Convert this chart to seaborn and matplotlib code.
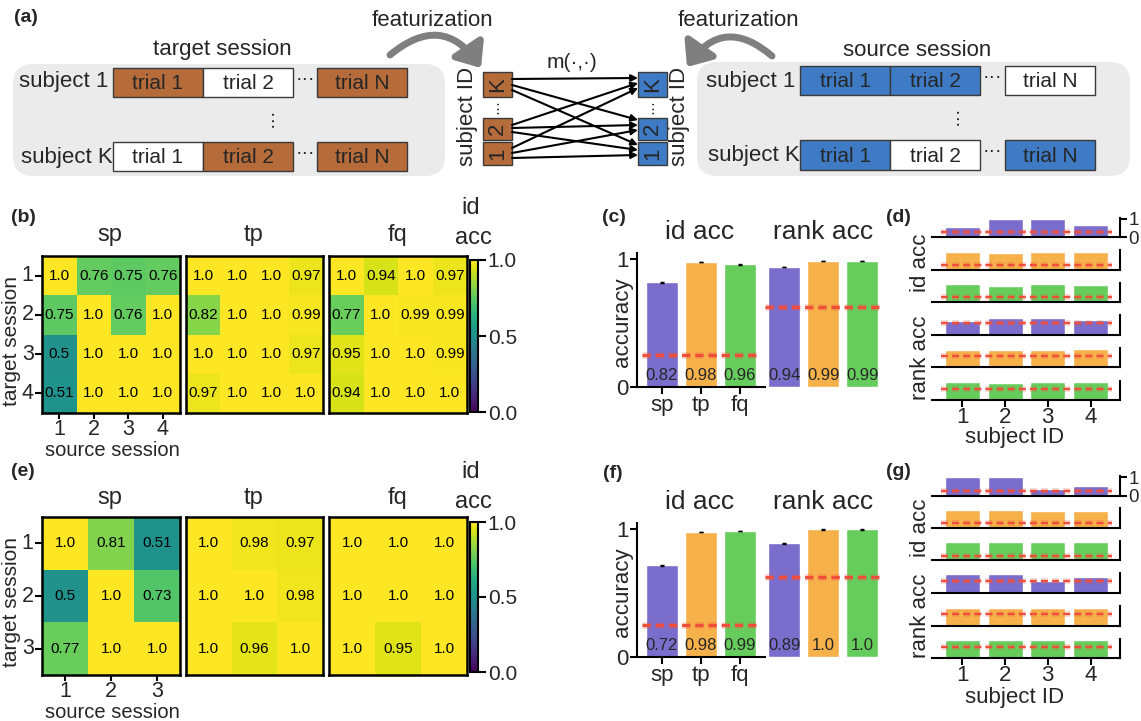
import numpy as np
import pandas as pd
import matplotlib
matplotlib.use("Agg")
import matplotlib.pyplot as plt
import seaborn as sns
from matplotlib.patches import Rectangle, FancyBboxPatch, FancyArrowPatch

# ---------------- data ----------------
features = ["sp", "tp", "fq"]
sessions_b = ["1", "2", "3", "4"]
sessions_e = ["1", "2", "3"]
subjects = ["1", "2", "3", "4"]

b_sp = [[1.0, 0.76, 0.75, 0.76], [0.75, 1.0, 0.76, 1.0], [0.5, 1.0, 1.0, 1.0], [0.51, 1.0, 1.0, 1.0]]
b_tp = [[1.0, 1.0, 1.0, 0.97], [0.82, 1.0, 1.0, 0.99], [1.0, 1.0, 1.0, 0.97], [0.97, 1.0, 1.0, 1.0]]
b_fq = [[1.0, 0.94, 1.0, 0.97], [0.77, 1.0, 0.99, 0.99], [0.95, 1.0, 1.0, 0.99], [0.94, 1.0, 1.0, 1.0]]

e_sp = [[1.0, 0.81, 0.51], [0.5, 1.0, 0.73], [0.77, 1.0, 1.0]]
e_tp = [[1.0, 0.98, 0.97], [1.0, 1.0, 0.98], [1.0, 0.96, 1.0]]
e_fq = [[1.0, 1.0, 1.0], [1.0, 1.0, 1.0], [1.0, 0.95, 1.0]]

c_id_acc = [0.82, 0.98, 0.96]
c_id_err = [0.004, 0.002, 0.002]
c_rank_acc = [0.94, 0.99, 0.99]
c_rank_err = [0.002, 0.001, 0.001]
f_id_acc = [0.72, 0.98, 0.99]
f_id_err = [0.004, 0.002, 0.001]
f_rank_acc = [0.89, 1.0, 1.0]
f_rank_err = [0.003, 0.001, 0.001]

chance_id = 0.25
chance_rank = 0.625

d_id_sp = [0.54, 0.96, 0.96, 0.63]
d_id_tp = [0.94, 0.89, 0.94, 0.94]
d_id_fq = [0.96, 0.85, 0.96, 0.91]
d_rank_sp = [0.76, 0.92, 0.92, 0.81]
d_rank_tp = [0.91, 0.91, 0.91, 0.96]
d_rank_fq = [0.98, 0.92, 0.98, 0.98]

g_id_sp = [1.0, 1.0, 0.35, 0.53]
g_id_tp = [0.98, 0.98, 0.92, 0.92]
g_id_fq = [0.98, 0.98, 0.98, 0.98]
g_rank_sp = [1.0, 1.0, 0.64, 0.87]
g_rank_tp = [0.99, 0.99, 0.99, 0.99]
g_rank_fq = [1.0, 1.0, 1.0, 0.98]

# ---------------- style ----------------
sns.set_theme(style="white")
plt.rcParams['font.family'] = ['Liberation Sans', 'DejaVu Sans']
plt.rcParams['lines.scale_dashes'] = False

PURPLE = "#7B6DCC"
ORANGE = "#F6B14B"
GREEN = "#66CD5D"
RED = "#EF4F3A"
BROWN = "#B66B3B"
BLUE = "#3E7BC4"
palette = [PURPLE, ORANGE, GREEN]

W, H = 1141, 721
fig = plt.figure(figsize=(W / 100, H / 100), dpi=100)


def px_axes(x0, y0, x1, y1):
    return fig.add_axes([x0 / W, 1 - y1 / H, (x1 - x0) / W, (y1 - y0) / H])


def fmt_val(v):
    s = f"{v:.2f}".rstrip("0")
    return s + "0" if s.endswith(".") else s


# ---------------- heatmaps ----------------
def heat(ax, data, sessions, cax=None, ticks=False):
    df = pd.DataFrame(data, index=sessions, columns=sessions)
    labels = np.array([[fmt_val(v) for v in row] for row in data])
    sns.heatmap(df, ax=ax, vmin=0, vmax=1, cmap="viridis", annot=labels, fmt="",
                annot_kws={"fontsize": 11, "color": "black"},
                cbar=cax is not None, cbar_ax=cax)
    for s in ax.spines.values():
        s.set_visible(True)
        s.set_color("black")
        s.set_linewidth(1.8)
    if ticks:
        ax.set_xticklabels(sessions, rotation=0, fontsize=15.5)
        ax.set_yticklabels(sessions, rotation=0, fontsize=15.5)
        ax.tick_params(axis="y", length=5, width=1.5, color="black", pad=1, left=True)
        ax.tick_params(axis="x", length=4, width=1.5, color="black", pad=0, bottom=True)
    else:
        ax.set_xticks([])
        ax.set_yticks([])
    ax.set_xlabel("")
    ax.set_ylabel("")
    if cax is not None:
        cb = ax.collections[0].colorbar
        cb.outline.set_edgecolor("black")
        cb.outline.set_linewidth(1.5)
        cb.set_ticks([0, 0.5, 1.0])
        cb.set_ticklabels(["0.0", "0.5", "1.0"])
        cax.tick_params(labelsize=15, length=6, width=1.5, color="black", right=True, pad=1)


def heat_panel(top, bottom, sp, tp, fq, sessions, cb_top, cb_bottom):
    a1 = px_axes(42, top, 180, bottom)
    a2 = px_axes(186, top, 323, bottom)
    a3 = px_axes(329, top, 467, bottom)
    cax = px_axes(470, cb_top, 478, cb_bottom)
    heat(a1, sp, sessions, ticks=True)
    heat(a2, tp, sessions)
    heat(a3, fq, sessions, cax=cax)


heat_panel(256, 413, b_sp, b_tp, b_fq, sessions_b, 260, 412)
heat_panel(517, 675, e_sp, e_tp, e_fq, sessions_e, 522, 672)


# ---------------- overall bar panels ----------------
def red_line(ax, y, x0, x1, lw, dash):
    ax.hlines(y, x0, x1, colors=RED, linewidth=lw + 2.5, alpha=0.25,
              linestyles=[(0, dash)], zorder=4)
    ax.hlines(y, x0, x1, colors=RED, linewidth=lw, linestyles=[(0, dash)], zorder=5)


def bar_panel(top, bottom, id_vals, id_err, rank_vals, rank_err):
    ax_id = px_axes(637, top, 765, bottom)
    ax_rk = px_axes(765, top, 893, bottom)
    for ax, vals, err, chance, xl in [(ax_id, id_vals, id_err, chance_id, (-0.64, 2.64)),
                                      (ax_rk, rank_vals, rank_err, chance_rank, (-0.49, 2.79))]:
        df = pd.DataFrame({"feature": features, "acc": vals})
        sns.barplot(data=df, x="feature", y="acc", hue="feature", palette=palette,
                    saturation=1, width=0.82, legend=False, ax=ax)
        ax.errorbar(range(3), vals, yerr=err, fmt="none", ecolor="black",
                    elinewidth=1, capsize=1.5, zorder=6)
        red_line(ax, chance, -0.5, 2.5, 2.3, (6, 3.5))
        for i, v in enumerate(vals):
            ax.text(i, 0.09, fmt_val(v), ha="center", va="center", fontsize=12, zorder=7)
        ax.set_xlim(*xl)
        ax.set_ylim(0, 1.05)
        ax.set_xlabel("")
        ax.set_ylabel("")
        ax.set_facecolor("none")
    sns.despine(ax=ax_id)
    for s in ["left", "bottom"]:
        ax_id.spines[s].set_color("black")
        ax_id.spines[s].set_linewidth(1.5)
    ax_id.set_yticks([0, 1])
    ax_id.set_yticklabels(["0", "1"], fontsize=16)
    ax_id.set_xticks(range(3))
    ax_id.set_xticklabels(features, fontsize=16)
    ax_id.tick_params(axis="both", length=5, width=1.5, color="black", pad=1,
                      left=True, bottom=True)
    ax_rk.set_axis_off()


bar_panel(253, 387, c_id_acc, c_id_err, c_rank_acc, c_rank_err)
bar_panel(523, 657, f_id_acc, f_id_err, f_rank_acc, f_rank_err)


# ---------------- per-subject panels ----------------
def subject_panel(bottoms, rows):
    n = len(rows)
    for k, (b, (vals, color, chance)) in enumerate(zip(bottoms, rows)):
        ax = px_axes(932, b - 19.3, 1120, b)
        df = pd.DataFrame({"subject": subjects, "acc": vals})
        sns.barplot(data=df, x="subject", y="acc", color=color, saturation=1,
                    width=0.82, ax=ax)
        red_line(ax, chance, -0.5, 3.5, 1.6, (5, 3))
        ax.set_xlim(-0.71, 3.69)
        ax.set_ylim(0, 1.05)
        ax.set_facecolor("none")
        for s in ["left", "top"]:
            ax.spines[s].set_visible(False)
        for s in ["right", "bottom"]:
            ax.spines[s].set_visible(True)
            ax.spines[s].set_color("black")
            ax.spines[s].set_linewidth(1.5)
        ax.set_xlabel("")
        ax.set_ylabel("")
        ax.yaxis.tick_right()
        if k == 0:
            ax.set_yticks([0, 1])
            ax.set_yticklabels(["0", "1"], fontsize=13.5)
            ax.tick_params(axis="y", right=True, left=False, length=5, width=1.5,
                           color="black", pad=1)
        else:
            ax.set_yticks([])
        if k == n - 1:
            ax.set_xticks(range(4))
            ax.set_xticklabels(subjects, fontsize=16)
            ax.tick_params(axis="x", bottom=True, length=5, width=1.5, color="black", pad=0)
        else:
            ax.set_xticks([])


subject_panel([237, 269.5, 302, 334.5, 367, 400],
              [(d_id_sp, PURPLE, chance_id), (d_id_tp, ORANGE, chance_id), (d_id_fq, GREEN, chance_id),
               (d_rank_sp, PURPLE, chance_rank), (d_rank_tp, ORANGE, chance_rank),
               (d_rank_fq, GREEN, chance_rank)])
subject_panel([495.7, 527.7, 560.3, 592.7, 625.7, 658.3],
              [(g_id_sp, PURPLE, chance_id), (g_id_tp, ORANGE, chance_id), (g_id_fq, GREEN, chance_id),
               (g_rank_sp, PURPLE, chance_rank), (g_rank_tp, ORANGE, chance_rank),
               (g_rank_fq, GREEN, chance_rank)])

# ---------------- overlay: diagram (a) + free text ----------------
ov = fig.add_axes([0, 0, 1, 1], zorder=10)
ov.set_xlim(0, W)
ov.set_ylim(H, 0)
ov.set_axis_off()
ov.patch.set_alpha(0)


def T(x, y, s, size=16, **kw):
    ov.text(x, y, s, fontsize=size, ha=kw.pop("ha", "center"), va=kw.pop("va", "center"), **kw)


# panel labels
for lbl, x, y in [("(a)", 26, 18), ("(b)", 23, 218), ("(c)", 614, 217), ("(d)", 898, 217),
                  ("(e)", 23, 472), ("(f)", 613, 473), ("(g)", 898, 472)]:
    T(x, y, lbl, size=14, fontweight="bold")

# heatmap texts
for yt, yid, yacc, ylab, yx in [(235, 208, 238, 341, 450), (498, 472, 502, 602, 712)]:
    T(110, yt, "sp", 17)
    T(253, yt, "tp", 17)
    T(397, yt, "fq", 17)
    T(471, yid, "id", 17)
    T(473, yacc, "acc", 17)
    T(12, ylab, "target session", 15, rotation=90)
    T(112, yx, "source session", 14.5)

# bar panel texts
for yt, yacc in [(232, 322), (502, 592)]:
    T(700, yt, "id acc", 19)
    T(823, yt, "rank acc", 19)
    T(623, yacc, "accuracy", 16, rotation=90)

# subject panel texts
for yid, yrank, ysub in [(263, 358, 437), (528, 616, 698)]:
    T(920, yid, "id acc", 16, rotation=90)
    T(920, yrank, "rank acc", 16, rotation=90)
    T(1015, ysub, "subject ID", 16)

# ---- diagram (a) ----
GRAYBG = "#EBEBEB"
EDGE = "#3A3A3A"
ov.add_patch(FancyBboxPatch((13, 64), 432, 112, boxstyle="round,pad=0,rounding_size=20",
                            fc=GRAYBG, ec="none"))
ov.add_patch(FancyBboxPatch((697, 62), 433, 114, boxstyle="round,pad=0,rounding_size=20",
                            fc=GRAYBG, ec="none"))


def trial_row(xs, y0, y1, fills, labels, dots_x):
    for (x0, x1), fc, lb in zip(xs, fills, labels):
        ov.add_patch(Rectangle((x0, y0), x1 - x0, y1 - y0, fc=fc, ec=EDGE, lw=1))
        T((x0 + x1) / 2, (y0 + y1) / 2 + 1, lb, 15)
    T(dots_x, (y0 + y1) / 2 - 3, "···", 14)


left_x = [(113, 203), (203, 293), (317, 407)]
right_x = [(800, 890), (890, 980), (1005, 1095)]
trial_labels = ["trial 1", "trial 2", "trial N"]
trial_row(left_x, 68, 97, [BROWN, "white", BROWN], trial_labels, 305)
trial_row(left_x, 142, 171, ["white", BROWN, BROWN], trial_labels, 305)
trial_row(right_x, 66, 95, [BLUE, BLUE, "white"], trial_labels, 992)
trial_row(right_x, 140, 170, [BLUE, "white", BLUE], trial_labels, 992)
T(108, 82, "subject 1", 16, ha="right")
T(113, 157, "subject K", 16, ha="right")
T(795, 81, "subject 1", 16, ha="right")
T(800, 155, "subject K", 16, ha="right")
T(272, 117, "···", 14, rotation=90)
T(957, 115, "···", 14, rotation=90)
T(222, 50, "target session", 16)
T(917, 50, "source session", 16)
T(432, 20, "featurization", 16)
T(738, 20, "featurization", 16)
T(572, 62, "m(·,·)", 15)

# subject ID boxes
id_rows = [("K", 72, 97), ("2", 118, 140), ("1", 142, 165)]
for (x0, x1, fc) in [(483, 512, BROWN), (638, 667, BLUE)]:
    for lb, y0, y1 in id_rows:
        ov.add_patch(Rectangle((x0, y0), x1 - x0, y1 - y0, fc=fc, ec=EDGE, lw=1))
        T((x0 + x1) / 2, (y0 + y1) / 2, lb, 16, rotation=90)
    T((x0 + x1) / 2, 107, "···", 11, rotation=90)
T(467, 116, "subject ID", 16, rotation=90)
T(679, 116, "subject ID", 16, rotation=90)

# matching arrows
pairs = [(79, 78), (85, 120), (90, 145),
         (125, 83), (128, 125), (132, 150),
         (148, 88), (153, 130), (158, 155)]
for ys, ye in pairs:
    ov.add_patch(FancyArrowPatch((512, ys), (638, ye), arrowstyle="-|>", mutation_scale=10,
                                 lw=1.5, color="black", shrinkA=0, shrinkB=0))

# featurization arrows
ov.add_patch(FancyArrowPatch((390, 55), (481, 68), connectionstyle="arc3,rad=-0.55",
                             arrowstyle="-|>,head_width=0.5,head_length=0.6", mutation_scale=22,
                             lw=5, color="#7F7F7F", shrinkA=0, shrinkB=0))
ov.add_patch(FancyArrowPatch((772, 56), (687, 67), connectionstyle="arc3,rad=0.55",
                             arrowstyle="-|>,head_width=0.5,head_length=0.6", mutation_scale=22,
                             lw=5, color="#7F7F7F", shrinkA=0, shrinkB=0))

fig.savefig("out.png", dpi=100)
